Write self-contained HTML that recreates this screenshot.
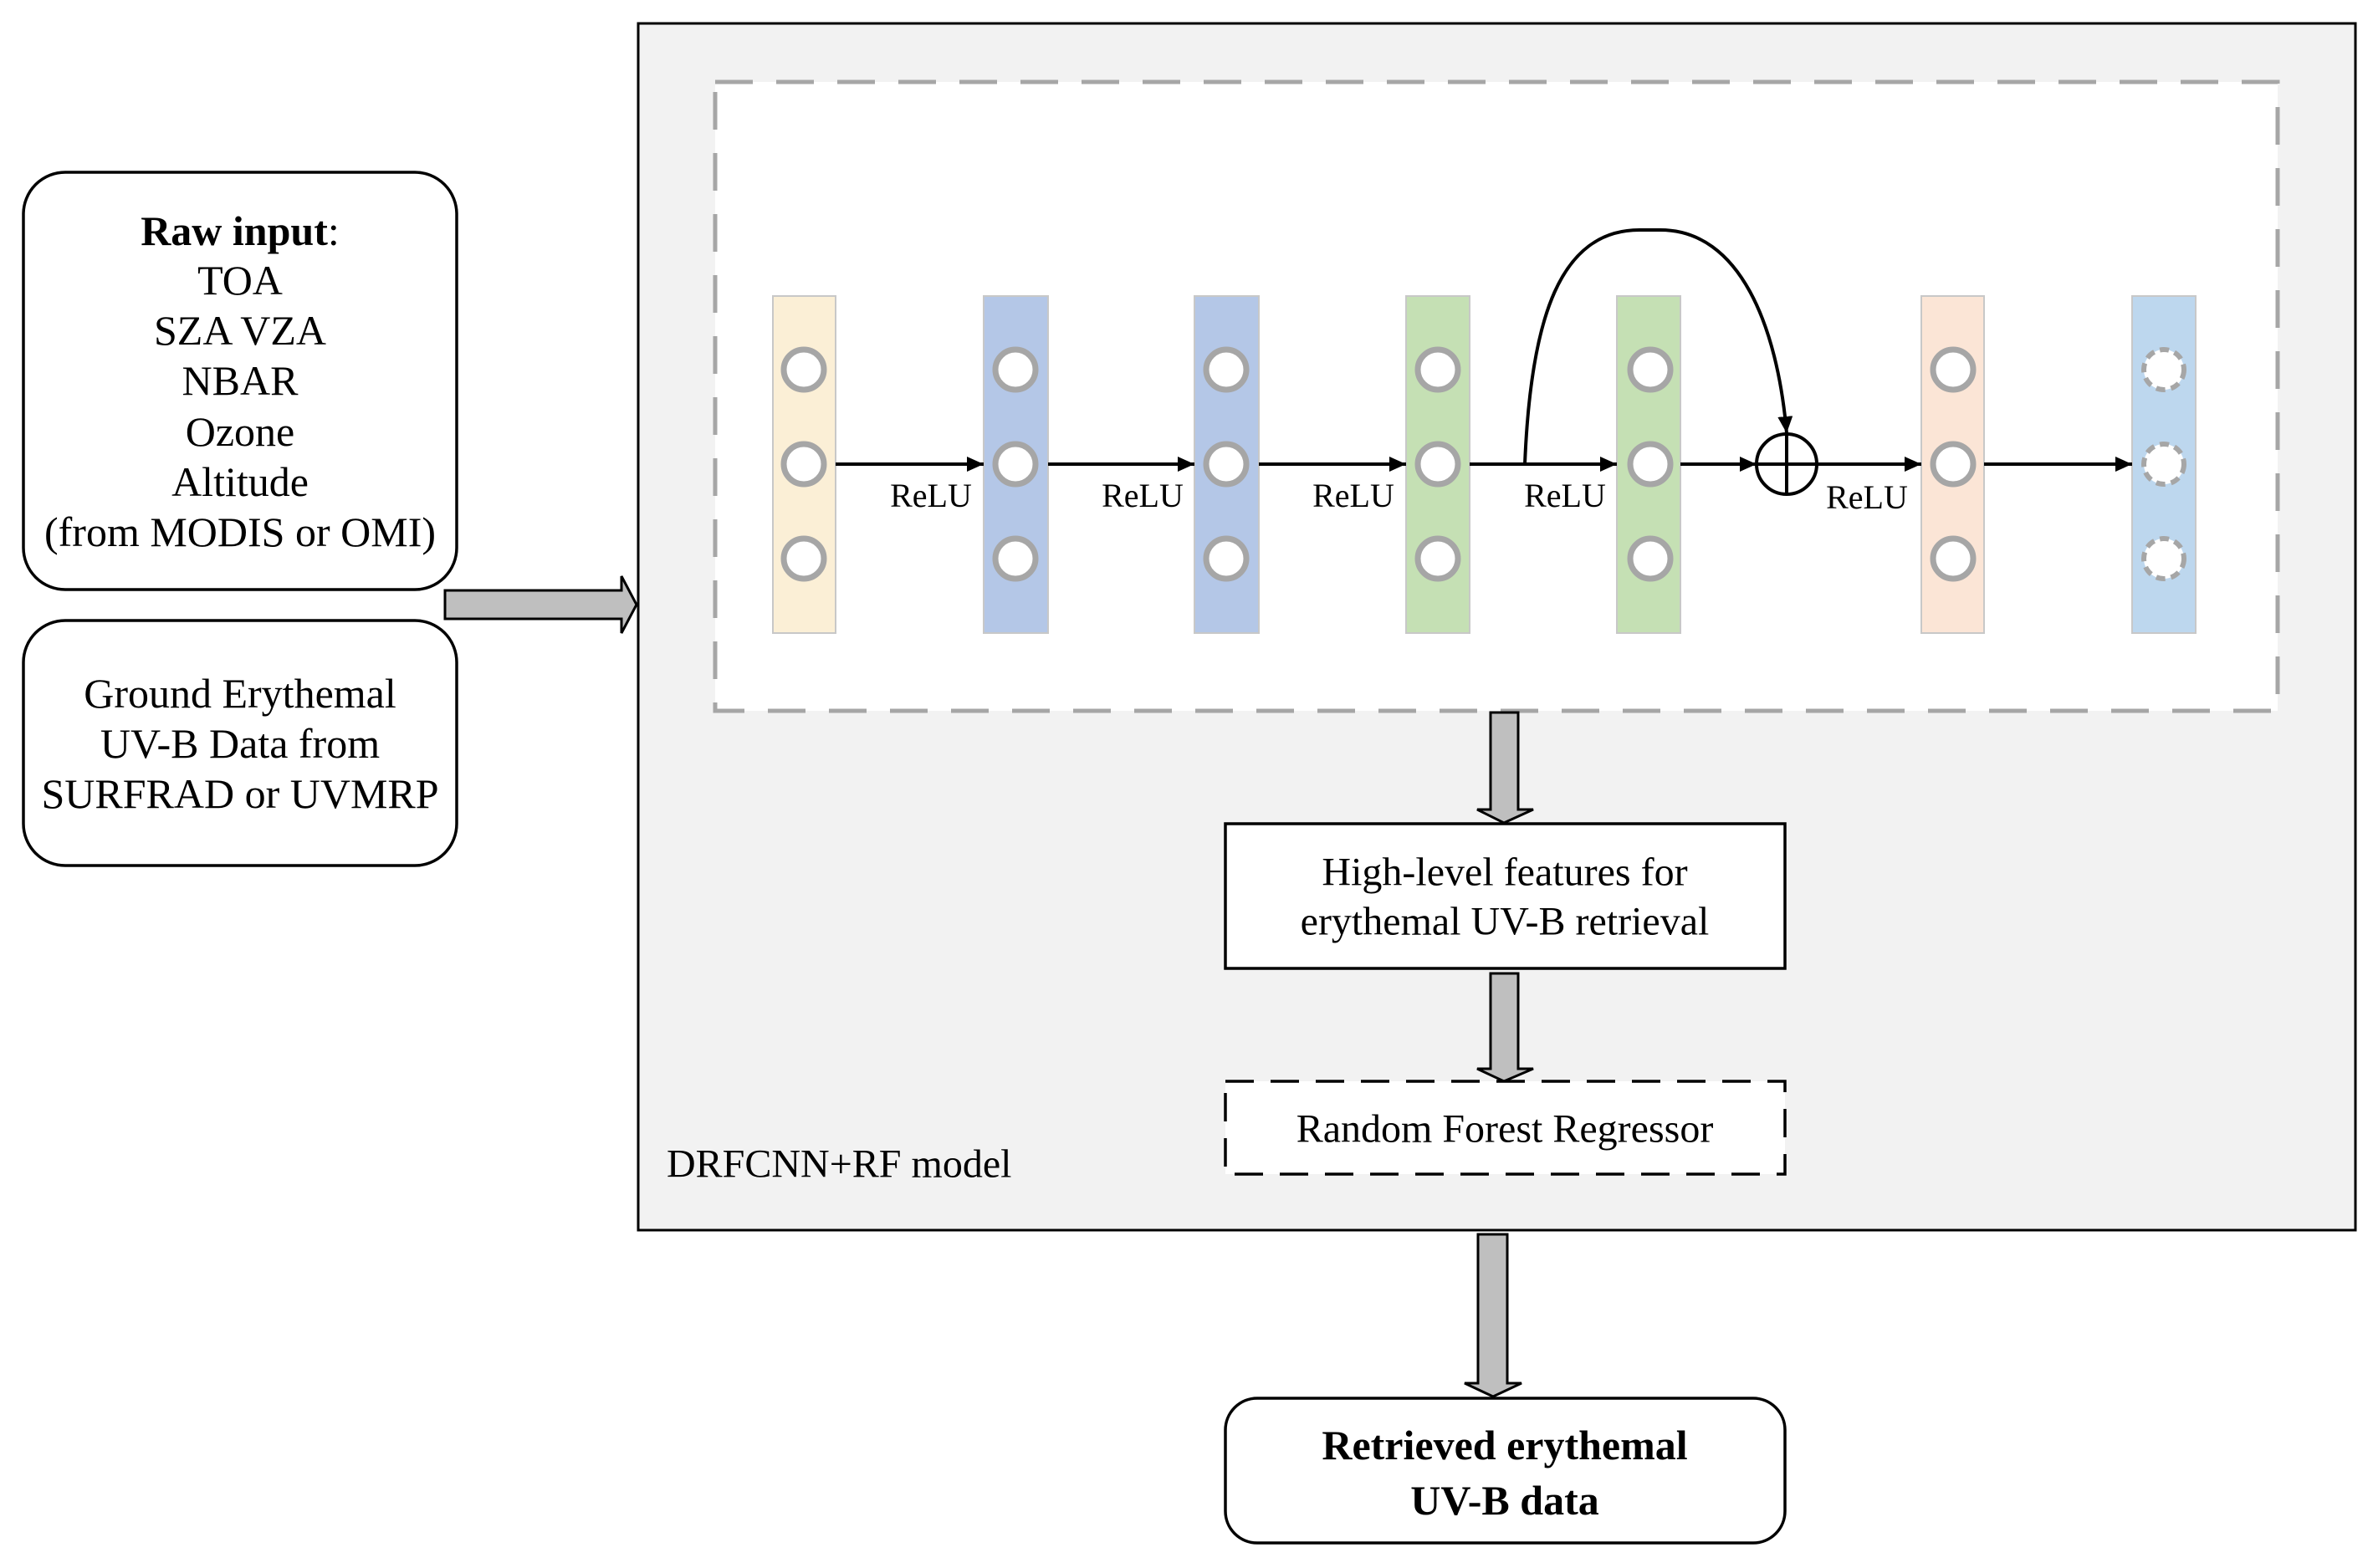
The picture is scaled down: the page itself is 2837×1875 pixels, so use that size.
<!DOCTYPE html>
<html><head><meta charset="utf-8"><style>
html,body{margin:0;padding:0;background:#fff}
svg{display:block}
text{font-family:"Liberation Serif",serif;fill:#000}
</style></head><body>
<svg width="2837" height="1875" viewBox="0 0 2837 1875" xmlns="http://www.w3.org/2000/svg">
<defs>
<marker id="ah" markerWidth="22" markerHeight="20" refX="20" refY="9" orient="auto" markerUnits="userSpaceOnUse">
<path d="M0,0 L20,9 L0,18 Z" fill="#000"/>
</marker>
</defs>
<rect x="763" y="28" width="2053" height="1443" fill="#f2f2f2" stroke="#000" stroke-width="3"/>
<rect x="855" y="98" width="1868" height="752" fill="#fff" stroke="#a6a6a6" stroke-width="5" stroke-dasharray="45,28"/>

<rect x="28" y="206" width="518" height="499" rx="50" fill="#fff" stroke="#000" stroke-width="3.5"/>
<text x="287" y="276" font-size="50" text-anchor="middle" dominant-baseline="central"><tspan font-weight="bold">Raw input</tspan>:</text>
<g font-size="50" text-anchor="middle" dominant-baseline="central">
<text x="287" y="335">TOA</text>
<text x="287" y="395">SZA VZA</text>
<text x="287" y="455">NBAR</text>
<text x="287" y="516">Ozone</text>
<text x="287" y="576">Altitude</text>
<text x="287" y="636">(from MODIS or OMI)</text>
</g>
<rect x="28" y="742" width="518" height="293" rx="50" fill="#fff" stroke="#000" stroke-width="3.5"/>
<g font-size="50" text-anchor="middle" dominant-baseline="central">
<text x="287" y="829">Ground Erythemal</text>
<text x="287" y="889">UV-B Data from</text>
<text x="287" y="949">SURFRAD or UVMRP</text>
</g>
<path d="M532,706 L743,706 L743,689 L761,723 L743,757 L743,740 L532,740 Z" fill="#bfbfbf" stroke="#000" stroke-width="3"/>

<g stroke="#c8c8c8" stroke-width="2">
<rect x="924" y="354" width="75" height="403" fill="#fbefd6"/>
<rect x="1176" y="354" width="77" height="403" fill="#b4c7e7"/>
<rect x="1428" y="354" width="77" height="403" fill="#b4c7e7"/>
<rect x="1681" y="354" width="76" height="403" fill="#c5e0b4"/>
<rect x="1933" y="354" width="76" height="403" fill="#c5e0b4"/>
<rect x="2297" y="354" width="75" height="403" fill="#fbe5d6"/>
<rect x="2549" y="354" width="76" height="403" fill="#bdd7ee"/>
</g>
<g fill="#fff" stroke="#a6a6a6" stroke-width="7">
<circle cx="961" cy="442" r="24"/><circle cx="961" cy="555" r="24"/><circle cx="961" cy="668" r="24"/>
<circle cx="1214" cy="442" r="24"/><circle cx="1214" cy="555" r="24"/><circle cx="1214" cy="668" r="24"/>
<circle cx="1466" cy="442" r="24"/><circle cx="1466" cy="555" r="24"/><circle cx="1466" cy="668" r="24"/>
<circle cx="1719" cy="442" r="24"/><circle cx="1719" cy="555" r="24"/><circle cx="1719" cy="668" r="24"/>
<circle cx="1973" cy="442" r="24"/><circle cx="1973" cy="555" r="24"/><circle cx="1973" cy="668" r="24"/>
<circle cx="2335" cy="442" r="24"/><circle cx="2335" cy="555" r="24"/><circle cx="2335" cy="668" r="24"/>
</g>
<g fill="#fff" stroke="#a6a6a6" stroke-width="6" stroke-dasharray="11,7">
<circle cx="2587" cy="442" r="24"/><circle cx="2587" cy="555" r="24"/><circle cx="2587" cy="668" r="24"/>
</g>

<g stroke="#000" stroke-width="4" marker-end="url(#ah)">
<line x1="999" y1="555" x2="1176" y2="555"/>
<line x1="1253" y1="555" x2="1428" y2="555"/>
<line x1="1505" y1="555" x2="1681" y2="555"/>
<line x1="1757" y1="555" x2="1933" y2="555"/>
<line x1="2009" y1="555" x2="2100" y2="555"/>
<line x1="2136" y1="555" x2="2297" y2="555"/>
<line x1="2372" y1="555" x2="2549" y2="555"/>
</g>
<path d="M1823,555 C1830,380 1865,275 1960,275 L1985,275 C2080,275 2125,390 2136,518" fill="none" stroke="#000" stroke-width="4" marker-end="url(#ah)"/>
<circle cx="2136" cy="555" r="36" fill="none" stroke="#000" stroke-width="4"/>
<line x1="2136" y1="519" x2="2136" y2="591" stroke="#000" stroke-width="4"/>
<line x1="2100" y1="555" x2="2172" y2="555" stroke="#000" stroke-width="4"/>

<g font-size="40" text-anchor="middle">
<text x="1113" y="606">ReLU</text>
<text x="1366" y="606">ReLU</text>
<text x="1618" y="606">ReLU</text>
<text x="1871" y="606">ReLU</text>
<text x="2232" y="608">ReLU</text>
</g>

<path d="M1782,852 L1815,852 L1815,968 L1833,968 L1798,984 L1766,968 L1782,968 Z" fill="#bfbfbf" stroke="#000" stroke-width="3"/>
<rect x="1465" y="985" width="669" height="173" fill="#fff" stroke="#000" stroke-width="3.5"/>
<g font-size="48" text-anchor="middle" dominant-baseline="central">
<text x="1799" y="1043">High-level features for</text>
<text x="1799" y="1102">erythemal UV-B retrieval</text>
</g>
<path d="M1782,1164 L1815,1164 L1815,1278 L1833,1278 L1798,1293 L1766,1278 L1782,1278 Z" fill="#bfbfbf" stroke="#000" stroke-width="3"/>
<rect x="1465" y="1293" width="669" height="111" fill="#fff" stroke="#000" stroke-width="3.5" stroke-dasharray="34,20"/>
<text x="1799" y="1350" font-size="48" text-anchor="middle" dominant-baseline="central">Random Forest Regressor</text>
<text x="797" y="1392" font-size="48" dominant-baseline="central">DRFCNN+RF model</text>

<path d="M1767,1476 L1802,1476 L1802,1654 L1819,1654 L1785,1670 L1751,1654 L1767,1654 Z" fill="#bfbfbf" stroke="#000" stroke-width="3"/>
<rect x="1465" y="1672" width="669" height="173" rx="38" fill="#fff" stroke="#000" stroke-width="3.5"/>
<g font-size="50" font-weight="bold" text-anchor="middle" dominant-baseline="central">
<text x="1799" y="1728">Retrieved erythemal</text>
<text x="1799" y="1794">UV-B data</text>
</g>
</svg>
</body></html>
